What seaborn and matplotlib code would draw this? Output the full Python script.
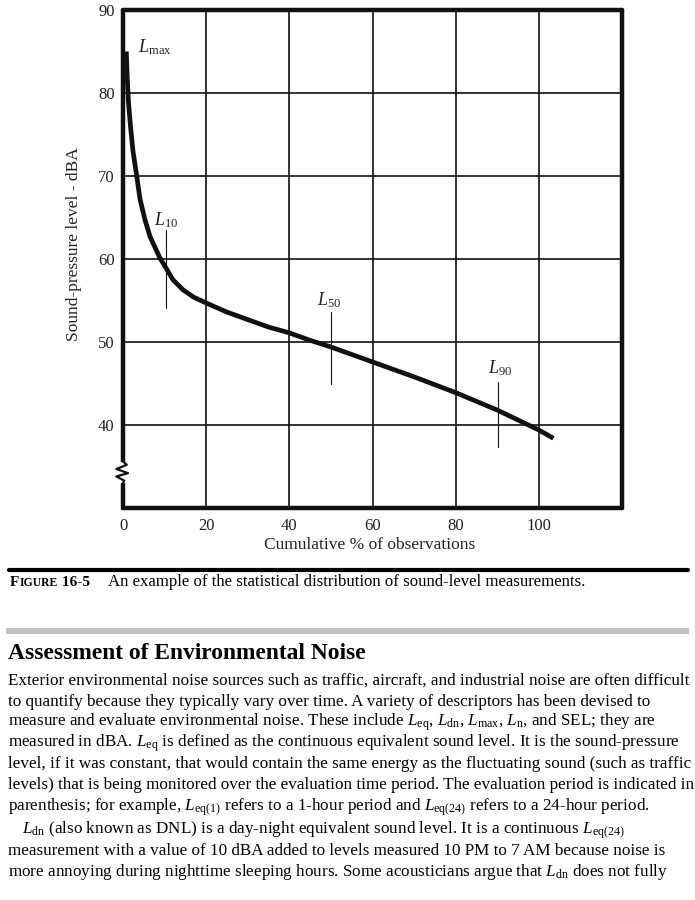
import numpy as np
import pandas as pd
import matplotlib
matplotlib.use("Agg")
import matplotlib.pyplot as plt
import seaborn as sns

# ---------------- data ----------------
cum_pct = [0.8, 1.0, 1.3, 1.8, 2.4, 3.3, 4.1, 5.3, 6.5, 8.9, 10.6, 12.0, 14.4, 17.0,
           20.0, 25.0, 30.0, 35.0, 40.0, 45.0, 50.0, 60.0, 70.0, 80.0, 90.0, 100.0, 103.5]
spl_dba = [85.0, 82.0, 79.0, 76.0, 73.0, 70.0, 67.2, 64.7, 62.7, 60.1, 58.7, 57.5, 56.3, 55.4,
           54.7, 53.6, 52.7, 51.8, 51.1, 50.2, 49.4, 47.6, 45.8, 43.9, 41.8, 39.4, 38.4]

x_ticks = [0, 20, 40, 60, 80, 100]
y_ticks = [40, 50, 60, 70, 80, 90]

stat_names = ["max", "10", "50", "90"]
stat_label_x = [7.7, 10.4, 49.6, 90.6]
stat_label_y = [85.5, 64.7, 55.1, 46.9]

marker_pct = [10.4, 49.9, 90.1]
marker_top = [63.5, 53.6, 45.2]
marker_bottom = [54.1, 44.9, 37.3]

x_label = "Cumulative % of observations"
y_label = "Sound-pressure level - dBA"

caption_tag = "16-5"
caption_text = "An example of the statistical distribution of sound-level measurements."
heading = "Assessment of Environmental Noise"
body_lines = [
    "Exterior environmental noise sources such as traffic, aircraft, and industrial noise are often difficult",
    "to quantify because they typically vary over time. A variety of descriptors has been devised to",
    r"measure and evaluate environmental noise. These include $L_{\mathrm{eq}}$, $L_{\mathrm{dn}}$, $L_{\mathrm{max}}$, $L_{\mathrm{n}}$, and SEL; they are",
    r"measured in dBA. $L_{\mathrm{eq}}$ is defined as the continuous equivalent sound level. It is the sound-pressure",
    "level, if it was constant, that would contain the same energy as the fluctuating sound (such as traffic",
    "levels) that is being monitored over the evaluation time period. The evaluation period is indicated in",
    r"parenthesis; for example, $L_{\mathrm{eq(1)}}$ refers to a 1-hour period and $L_{\mathrm{eq(24)}}$ refers to a 24-hour period.",
    r"$L_{\mathrm{dn}}$ (also known as DNL) is a day-night equivalent sound level. It is a continuous $L_{\mathrm{eq(24)}}$",
    "measurement with a value of 10 dBA added to levels measured 10 PM to 7 AM because noise is",
    r"more annoying during nighttime sleeping hours. Some acousticians argue that $L_{\mathrm{dn}}$ does not fully",
]
body_baselines = [685, 706, 726, 747, 768, 789, 811, 834, 855, 876]
body_indent = [8, 8, 8, 8, 8, 8, 8, 22, 8, 8]

# ---------------- style ----------------
sns.set_theme(style="white")
plt.rcParams["font.family"] = ["Liberation Serif", "DejaVu Serif"]
plt.rcParams["mathtext.fontset"] = "custom"
plt.rcParams["mathtext.rm"] = "Liberation Serif"
plt.rcParams["mathtext.it"] = "Liberation Serif:italic"
plt.rcParams["mathtext.bf"] = "Liberation Serif:bold"

W, H = 695, 900
ink = "#111111"
fig = plt.figure(figsize=(W / 100, H / 100), dpi=100)
fig.patch.set_facecolor("white")

def px(x, y):
    return x / W, 1 - y / H

ax = fig.add_axes([123 / W, 1 - 508 / H, (622 - 123) / W, (508 - 10) / H])
ax.set_xlim(0, 120)
ax.set_ylim(30, 90)
ax.set_xticks(x_ticks)
ax.set_yticks(y_ticks)
ax.grid(True, color=ink, linewidth=1.2)
ax.set_axisbelow(True)
for s in ax.spines.values():
    s.set_linewidth(3.2)
    s.set_color(ink)
    s.set_capstyle("round")
ax.tick_params(length=0, labelsize=12, colors="#222222")
ax.tick_params(axis="y", pad=6)
ax.tick_params(axis="x", pad=7)

df = pd.DataFrame({"pct": cum_pct, "dba": spl_dba})
sns.lineplot(data=df, x="pct", y="dba", sort=False, color=ink, linewidth=3.4,
             ax=ax, solid_capstyle="butt")

for xm, yt, yb in zip(marker_pct, marker_top, marker_bottom):
    ax.plot([xm, xm], [yb, yt], color=ink, linewidth=0.8)

for name, lx, ly in zip(stat_names, stat_label_x, stat_label_y):
    ax.text(lx, ly, r"$L_{\mathrm{%s}}$" % name, ha="center", va="center",
            fontsize=13, color="#222222")

# axis break on the y spine
brk_lo, brk_hi = 33.0, 35.6
ax.plot([0, 0], [brk_lo, brk_hi], color="white", linewidth=4.5, clip_on=False, zorder=5,
        solid_capstyle="butt")
zz_x = [0, 0.9, -1.6, 1.2, -1.6, 0.3, 0]
zz_y = [35.6, 35.2, 34.7, 34.2, 33.8, 33.3, 33.0]
ax.plot(zz_x, zz_y, color=ink, linewidth=1.6, clip_on=False, zorder=6)

ax.set_xlabel(x_label, fontsize=12.5, color="#222222")
ax.set_ylabel(y_label, fontsize=12.5, color="#222222")
ax.xaxis.set_label_coords(0.495, -0.058)
ax.yaxis.set_label_coords(-0.082, 0.53)

# ---------------- text below ----------------
renderer = fig.canvas.get_renderer()

def width_of(t):
    return t.get_window_extent(renderer=renderer).width

def fit(s, target, base, **kw):
    t = fig.text(0, 0, s, fontsize=base, **kw)
    w = width_of(t)
    t.remove()
    return base * target / w

# black rule
fig.add_artist(plt.Line2D([9 / W, 688 / W], [1 - 569.5 / H] * 2, color="black",
                          linewidth=3.0, transform=fig.transFigure))
# caption
cs = fit("FIGURE 16-5", 87, 10, fontweight="bold")
x0 = 10
t = fig.text(*px(x0, 586), "F", fontsize=cs * 1.05, fontweight="bold", va="baseline", color="black")
x0 += width_of(t)
t = fig.text(*px(x0, 586), "IGURE", fontsize=cs * 0.8, fontweight="bold", va="baseline", color="black")
x0 += width_of(t)
t = fig.text(*px(x0, 586), " " + caption_tag, fontsize=cs * 1.05, fontweight="bold", va="baseline", color="black")
cap_size = fit(caption_text, 476, 10)
fig.text(*px(108, 586), caption_text, fontsize=cap_size, va="baseline", color="black")

# gray band
fig.add_artist(plt.Rectangle((6 / W, 1 - 634 / H), (689 - 6) / W, 6 / H, color="#c2c2c6",
                             transform=fig.transFigure, lw=0))

hs = fit(heading, 359, 16, fontweight="bold")
fig.text(*px(8, 659), heading, fontsize=hs, fontweight="bold", va="baseline", color="black")

bs = fit(body_lines[0], 680, 11)
for s, yb, xi in zip(body_lines, body_baselines, body_indent):
    fig.text(*px(xi, yb), s, fontsize=bs, va="baseline", color="black")

fig.savefig("out.png", dpi=100)
